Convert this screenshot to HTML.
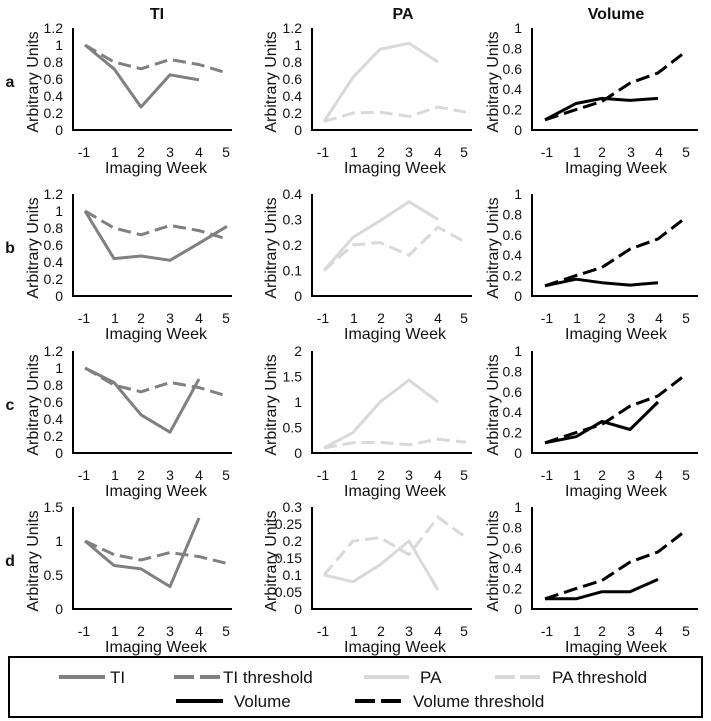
<!DOCTYPE html>
<html><head><meta charset="utf-8"><style>
html,body{margin:0;padding:0;background:#fff;}
svg{display:block;font-family:"Liberation Sans",Arial,sans-serif;}
.tk{font-size:14px;fill:#111;}
.ax{font-size:16px;fill:#111;}
.tt{font-size:16px;font-weight:bold;fill:#111;}
.lg{font-size:17px;fill:#111;}
.axl{stroke:#000;stroke-width:2;fill:none;}
.ti{stroke:#808080;stroke-width:3;fill:none;stroke-linejoin:round;}
.tid{stroke:#808080;stroke-width:3;fill:none;stroke-dasharray:13 6;}
.pa{stroke:#d9d9d9;stroke-width:3;fill:none;stroke-linejoin:round;}
.pad{stroke:#d9d9d9;stroke-width:3;fill:none;stroke-dasharray:13 6;}
.vo{stroke:#000;stroke-width:3;fill:none;stroke-linejoin:round;}
.vod{stroke:#000;stroke-width:3;fill:none;stroke-dasharray:14 6;}
</style></head><body>
<svg width="711" height="721" viewBox="0 0 711 721" xmlns="http://www.w3.org/2000/svg">
<!-- Titles -->
<text class="tt" x="157" y="19" text-anchor="middle">TI</text>
<text class="tt" x="403" y="19" text-anchor="middle">PA</text>
<text class="tt" x="616" y="19" text-anchor="middle">Volume</text>

<!-- Row labels -->
<text class="tt" x="10" y="87" text-anchor="middle">a</text>
<text class="tt" x="10" y="253" text-anchor="middle">b</text>
<text class="tt" x="10" y="410" text-anchor="middle">c</text>
<text class="tt" x="10" y="566" text-anchor="middle">d</text>

<!-- ================= ROW A (B=130) ================= -->
<g>
<path class="axl" d="M73,28 V130 H232 M312,28 V130 H472 M532,28 V130 H698"/>
<g class="tk" text-anchor="end">
<text x="63" y="135">0</text><text x="63" y="118">0.2</text><text x="63" y="101">0.4</text><text x="63" y="84">0.6</text><text x="63" y="67">0.8</text><text x="63" y="50">1</text><text x="63" y="33">1.2</text>
<text x="302" y="135">0</text><text x="302" y="118">0.2</text><text x="302" y="101">0.4</text><text x="302" y="84">0.6</text><text x="302" y="67">0.8</text><text x="302" y="50">1</text><text x="302" y="33">1.2</text>
<text x="522" y="135">0</text><text x="522" y="114.6">0.2</text><text x="522" y="94.2">0.4</text><text x="522" y="73.8">0.6</text><text x="522" y="53.4">0.8</text><text x="522" y="33">1</text>
</g>
<g class="tk" text-anchor="middle">
<text x="84" y="157">-1</text><text x="115" y="157">1</text><text x="141" y="157">2</text><text x="170" y="157">3</text><text x="199" y="157">4</text><text x="226" y="157">5</text>
<text x="323" y="157">-1</text><text x="354" y="157">1</text><text x="381" y="157">2</text><text x="409" y="157">3</text><text x="438" y="157">4</text><text x="464" y="157">5</text>
<text x="547" y="157">-1</text><text x="577" y="157">1</text><text x="602" y="157">2</text><text x="631" y="157">3</text><text x="659" y="157">4</text><text x="686" y="157">5</text>
</g>
<g class="ax" text-anchor="middle">
<text x="156" y="173">Imaging Week</text><text x="395" y="173">Imaging Week</text><text x="616" y="173">Imaging Week</text>
<text transform="translate(38,82) rotate(-90)">Arbitrary Units</text>
<text transform="translate(276,82) rotate(-90)">Arbitrary Units</text>
<text transform="translate(498,82) rotate(-90)">Arbitrary Units</text>
</g>
<polyline class="tid" points="85,45 114,62 141,68.8 170,59.5 199,64.6 227,73"/>
<polyline class="ti" points="85,45 114,68.8 141,107 170,74.8 199,79.9"/>
<polyline class="pad" points="324,121.5 353,113 380,112.2 409,116.4 438,107 466,112.2"/>
<polyline class="pa" points="324,121.5 353,77.3 380,49.3 409,43.3 438,62"/>
<polyline class="vod" points="545,119.8 576,109.6 602,101.4 630,83.1 658,72.9 682,54.5"/>
<polyline class="vo" points="545,119.8 576,103.5 602,98.4 630,100.4 658,98.4"/>
</g>

<!-- ================= ROW B (B=296) ================= -->
<g>
<path class="axl" d="M73,194 V296 H232 M312,194 V296 H472 M532,194 V296 H698"/>
<g class="tk" text-anchor="end">
<text x="63" y="301">0</text><text x="63" y="284">0.2</text><text x="63" y="267">0.4</text><text x="63" y="250">0.6</text><text x="63" y="233">0.8</text><text x="63" y="216">1</text><text x="63" y="199">1.2</text>
<text x="302" y="301">0</text><text x="302" y="275.5">0.1</text><text x="302" y="250">0.2</text><text x="302" y="224.5">0.3</text><text x="302" y="199">0.4</text>
<text x="522" y="301">0</text><text x="522" y="280.6">0.2</text><text x="522" y="260.2">0.4</text><text x="522" y="239.8">0.6</text><text x="522" y="219.4">0.8</text><text x="522" y="199">1</text>
</g>
<g class="tk" text-anchor="middle">
<text x="84" y="323">-1</text><text x="115" y="323">1</text><text x="141" y="323">2</text><text x="170" y="323">3</text><text x="199" y="323">4</text><text x="226" y="323">5</text>
<text x="323" y="323">-1</text><text x="354" y="323">1</text><text x="381" y="323">2</text><text x="409" y="323">3</text><text x="438" y="323">4</text><text x="464" y="323">5</text>
<text x="547" y="323">-1</text><text x="577" y="323">1</text><text x="602" y="323">2</text><text x="631" y="323">3</text><text x="659" y="323">4</text><text x="686" y="323">5</text>
</g>
<g class="ax" text-anchor="middle">
<text x="156" y="339">Imaging Week</text><text x="395" y="339">Imaging Week</text><text x="616" y="339">Imaging Week</text>
<text transform="translate(38,248) rotate(-90)">Arbitrary Units</text>
<text transform="translate(276,248) rotate(-90)">Arbitrary Units</text>
<text transform="translate(498,248) rotate(-90)">Arbitrary Units</text>
</g>
<polyline class="tid" points="85,211 114,228 141,234.8 170,225.5 199,230.6 227,239"/>
<polyline class="ti" points="85,211 114,258.6 141,256 170,260.3 199,243.3 227,226.3"/>
<polyline class="pad" points="324,270.5 353,245 380,242.5 409,255.2 438,227.2 466,242.5"/>
<polyline class="pa" points="324,270.5 353,237.4 380,220.8 409,201.7 438,219.5"/>
<polyline class="vod" points="545,285.8 576,275.6 602,267.4 630,249.1 658,238.9 682,220.5"/>
<polyline class="vo" points="545,285.8 576,279.2 602,282.7 630,285.1 658,282.7"/>
</g>

<!-- ================= ROW C (B=453) ================= -->
<g>
<path class="axl" d="M73,351 V453 H232 M312,351 V453 H472 M532,351 V453 H698"/>
<g class="tk" text-anchor="end">
<text x="63" y="458">0</text><text x="63" y="441">0.2</text><text x="63" y="424">0.4</text><text x="63" y="407">0.6</text><text x="63" y="390">0.8</text><text x="63" y="373">1</text><text x="63" y="356">1.2</text>
<text x="302" y="458">0</text><text x="302" y="432.5">0.5</text><text x="302" y="407">1</text><text x="302" y="381.5">1.5</text><text x="302" y="356">2</text>
<text x="522" y="458">0</text><text x="522" y="437.6">0.2</text><text x="522" y="417.2">0.4</text><text x="522" y="396.8">0.6</text><text x="522" y="376.4">0.8</text><text x="522" y="356">1</text>
</g>
<g class="tk" text-anchor="middle">
<text x="84" y="480">-1</text><text x="115" y="480">1</text><text x="141" y="480">2</text><text x="170" y="480">3</text><text x="199" y="480">4</text><text x="226" y="480">5</text>
<text x="323" y="480">-1</text><text x="354" y="480">1</text><text x="381" y="480">2</text><text x="409" y="480">3</text><text x="438" y="480">4</text><text x="464" y="480">5</text>
<text x="547" y="480">-1</text><text x="577" y="480">1</text><text x="602" y="480">2</text><text x="631" y="480">3</text><text x="659" y="480">4</text><text x="686" y="480">5</text>
</g>
<g class="ax" text-anchor="middle">
<text x="156" y="496">Imaging Week</text><text x="395" y="496">Imaging Week</text><text x="616" y="496">Imaging Week</text>
<text transform="translate(38,405) rotate(-90)">Arbitrary Units</text>
<text transform="translate(276,405) rotate(-90)">Arbitrary Units</text>
<text transform="translate(498,405) rotate(-90)">Arbitrary Units</text>
</g>
<polyline class="tid" points="85,368 114,385 141,391.8 170,382.5 199,387.6 227,396"/>
<polyline class="ti" points="85,368 114,382.5 141,414.8 170,432.2 199,379"/>
<polyline class="pad" points="324,447.9 353,442.8 380,442.3 409,444.8 438,439.2 466,442.3"/>
<polyline class="pa" points="324,447.9 353,432.6 380,402 409,380.1 438,402"/>
<polyline class="vod" points="545,442.8 576,432.6 602,424.4 630,406.1 658,395.9 682,377.5"/>
<polyline class="vo" points="545,442.8 576,436.7 602,421.4 630,429.5 658,402"/>
</g>

<!-- ================= ROW D (B=609) ================= -->
<g>
<path class="axl" d="M73,507 V609 H232 M312,507 V609 H472 M532,507 V609 H698"/>
<g class="tk" text-anchor="end">
<text x="63" y="614">0</text><text x="63" y="580">0.5</text><text x="63" y="546">1</text><text x="63" y="512">1.5</text>
<text x="302" y="614">0</text><text x="302" y="597">0.05</text><text x="302" y="580">0.1</text><text x="302" y="563">0.15</text><text x="302" y="546">0.2</text><text x="302" y="529">0.25</text><text x="302" y="512">0.3</text>
<text x="522" y="614">0</text><text x="522" y="593.6">0.2</text><text x="522" y="573.2">0.4</text><text x="522" y="552.8">0.6</text><text x="522" y="532.4">0.8</text><text x="522" y="512">1</text>
</g>
<g class="tk" text-anchor="middle">
<text x="84" y="636">-1</text><text x="115" y="636">1</text><text x="141" y="636">2</text><text x="170" y="636">3</text><text x="199" y="636">4</text><text x="226" y="636">5</text>
<text x="323" y="636">-1</text><text x="354" y="636">1</text><text x="381" y="636">2</text><text x="409" y="636">3</text><text x="438" y="636">4</text><text x="464" y="636">5</text>
<text x="547" y="636">-1</text><text x="577" y="636">1</text><text x="602" y="636">2</text><text x="631" y="636">3</text><text x="659" y="636">4</text><text x="686" y="636">5</text>
</g>
<g class="ax" text-anchor="middle">
<text x="156" y="652">Imaging Week</text><text x="395" y="652">Imaging Week</text><text x="616" y="652">Imaging Week</text>
<text transform="translate(38,561) rotate(-90)">Arbitrary Units</text>
<text transform="translate(276,561) rotate(-90)">Arbitrary Units</text>
<text transform="translate(498,561) rotate(-90)">Arbitrary Units</text>
</g>
<polyline class="tid" points="85,541 114,554.6 141,560 170,552.6 199,556.6 227,563.4"/>
<polyline class="ti" points="85,541 114,565.5 141,568.9 170,586.6 199,517.9"/>
<polyline class="pad" points="324,575 353,541 380,537.6 409,554.6 438,517.2 466,537.6"/>
<polyline class="pa" points="324,575 353,581.8 380,564.8 409,541 438,590"/>
<polyline class="vod" points="545,598.8 576,588.6 602,580.4 630,562.1 658,551.9 682,533.5"/>
<polyline class="vo" points="545,598.8 576,598.8 602,591.7 630,591.7 658,579.4"/>
</g>

<!-- ================= LEGEND ================= -->
<rect x="9" y="657" width="693" height="60" fill="none" stroke="#000" stroke-width="2"/>
<line x1="59" y1="677" x2="105" y2="677" stroke="#808080" stroke-width="4"/>
<text class="lg" x="110" y="683">TI</text>
<line x1="174" y1="677" x2="220" y2="677" stroke="#808080" stroke-width="4" stroke-dasharray="20 6 20"/>
<text class="lg" x="223" y="683">TI threshold</text>
<line x1="364" y1="677" x2="409" y2="677" stroke="#d9d9d9" stroke-width="4"/>
<text class="lg" x="420" y="683">PA</text>
<line x1="495" y1="677" x2="540" y2="677" stroke="#d9d9d9" stroke-width="4" stroke-dasharray="20 5 20"/>
<text class="lg" x="552" y="683">PA threshold</text>
<line x1="176" y1="701" x2="223" y2="701" stroke="#000" stroke-width="4"/>
<text class="lg" x="234" y="707">Volume</text>
<line x1="355" y1="701" x2="401" y2="701" stroke="#000" stroke-width="4" stroke-dasharray="20 6 20"/>
<text class="lg" x="413" y="707">Volume threshold</text>
</svg>
</body></html>
